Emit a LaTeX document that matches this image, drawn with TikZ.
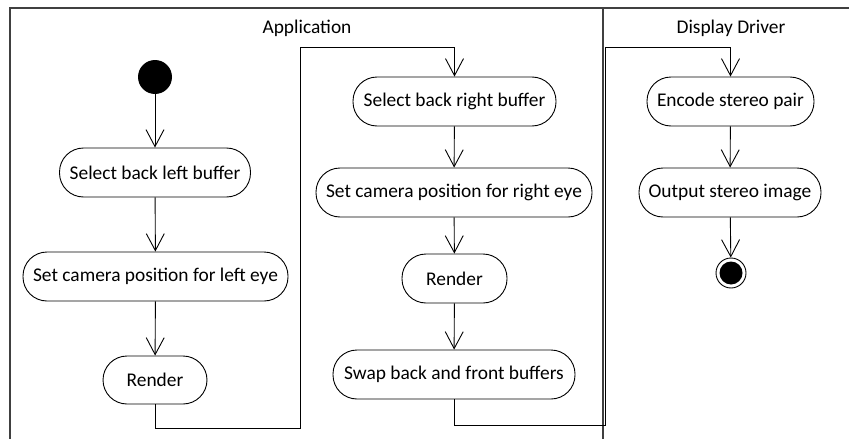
\documentclass[tikz,border=0pt]{standalone}
\usepackage{fontspec}
\setmainfont{Carlito}
\usetikzlibrary{arrows.meta}
\begin{document}
\begin{tikzpicture}[x=1pt,y=-1pt,
  act/.style={draw=black,line width=0.9pt,rounded corners=24pt,minimum height=49pt,inner sep=0pt,font=\fontsize{19.4}{22}\selectfont,text=black},
  flow/.style={draw=black,line width=0.9pt,-{Straight Barb[length=17pt,width=18pt,line width=0.9pt]}},
  lane/.style={draw=black!75,line width=1.3pt},
  ttl/.style={font=\fontsize{19.4}{22}\selectfont,inner sep=0pt}]
\useasboundingbox (0,0) rectangle (849,439);
% swimlane frame
\draw[lane] (10,439) -- (10,8) -- (849,8);
\draw[lane] (603,8) -- (603,439);
\node[ttl] (tapp) at (307,28) {Application};
\node[ttl] (tdd) at (731,28) {Display Driver};
% nodes
\node[circle,fill=black,minimum size=34pt,inner sep=0pt] (start) at (155,77) {};
\node[act,minimum width=191pt] (n1) at (155,172.5) {Select back left buffer};
\node[act,minimum width=265pt] (n2) at (155.5,276.5) {Set camera position for left eye};
\node[act,minimum width=104pt,minimum height=48pt] (n3) at (155,380) {Render};
\node[act,minimum width=203pt] (n4) at (454.5,101.5) {Select back right buffer};
\node[act,minimum width=276pt] (n5) at (454,192.5) {Set camera position for right eye};
\node[act,minimum width=105pt] (n6) at (454.5,278.5) {Render};
\node[act,minimum width=242pt] (n7) at (454,374.5) {Swap back and front buffers};
\node[act,minimum width=167pt] (n8) at (730.5,101.5) {Encode stereo pair};
\node[act,minimum width=182pt] (n9) at (730,192.5) {Output stereo image};
\node[circle,draw=black,line width=0.9pt,minimum size=30pt,inner sep=0pt] (end) at (731,273) {};
\fill[black] (end.center) circle (11.5pt);
% corner coordinates
\coordinate (c1) at (300,428);
\coordinate (c2) at (300,47);
\coordinate (c3) at (605,425);
\coordinate (c4) at (605,47);
% connectors
\draw[flow] (start) -- (n1);
\draw[flow] (n1) -- (n2);
\draw[flow] (n2) -- (n3);
\draw[flow] (n3.south) |- (c1) -- (c2) -| (n4.north);
\draw[flow] (n4) -- (n5);
\draw[flow] (n5) -- (n6);
\draw[flow] (n6) -- (n7);
\draw[flow] (n7.south) |- (c3) -- (c4) -| (n8.north);
\draw[flow] (n8) -- (n9);
\draw[flow] (n9) -- (end);
\end{tikzpicture}
\end{document}
